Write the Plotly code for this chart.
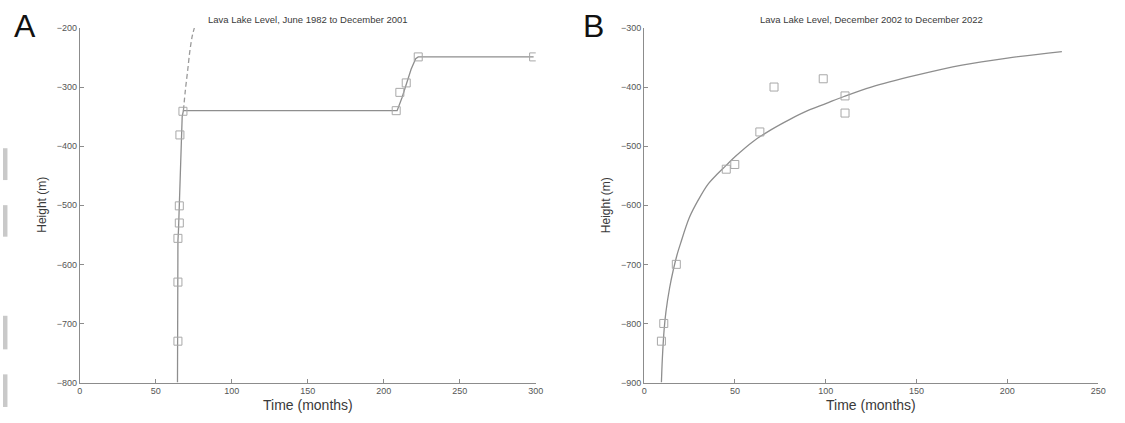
import plotly.graph_objects as go

# ---- Panel A data (months, metres) ----
a_obs_x = [64.6, 64.6, 64.6, 65.5, 65.5, 65.9, 67.9, 208.2, 210.6, 214.8, 222.7, 298.6]
a_obs_y = [-730, -630, -556, -530, -501, -381, -341, -340, -309, -293, -249, -249]

a_fit_x = [64.3, 64.3, 64.6, 65.0, 65.5, 66.0, 66.6, 67.4, 68.2, 208.8, 212.0, 215.0, 218.0, 221.0, 222.7, 298.6]
a_fit_y = [-800, -600, -560, -540, -500, -450, -380, -350, -340, -340, -318, -292, -270, -252, -249, -249]

a_ext_x = [68.2, 69.5, 71.0, 72.5, 74.0, 75.4]
a_ext_y = [-340, -305, -272, -238, -214, -200]

# ---- Panel B data ----
b_obs_x = [9.5, 10.8, 17.7, 45.2, 49.9, 63.7, 71.5, 98.6, 110.6, 110.6]
b_obs_y = [-830, -800, -700, -539, -531, -476, -400, -386, -415, -444]

b_fit_x = [9.5, 10, 11, 12, 14, 16, 18, 20, 25, 30, 35, 40, 45, 50, 60, 70, 80, 90, 100, 110, 125, 150, 175, 200, 230]
b_fit_y = [-900, -860, -810, -780, -740, -710, -685, -665, -620, -590, -565, -548, -533, -518, -492, -472, -455, -440, -428, -416, -400, -380, -363, -351, -340]

titles = ["Lava Lake Level, June 1982 to December 2001", "Lava Lake Level, December 2002 to December 2022"]
panel_letters = ["A", "B"]

W, H = 1125, 423
LINE = "#8e8e8e"
MARK = "#a8a8a8"
AXIS = "#8c8c8c"
TXT = "#3a3a3a"
FONT = "Liberation Sans, Arial, sans-serif"

def px(x):
    return x / W

def py(y):
    return 1 - y / H

fig = go.Figure()

fig.add_trace(go.Scatter(x=a_fit_x, y=a_fit_y, mode="lines", line=dict(color=LINE, width=1.3),
                         xaxis="x", yaxis="y", showlegend=False))
fig.add_trace(go.Scatter(x=a_ext_x, y=a_ext_y, mode="lines",
                         line=dict(color="#9a9a9a", width=1.3, dash="5px,3px", shape="spline"),
                         xaxis="x", yaxis="y", showlegend=False))
fig.add_trace(go.Scatter(x=a_obs_x, y=a_obs_y, mode="markers",
                         marker=dict(symbol="square-open", size=8, color=MARK, line=dict(width=1)),
                         xaxis="x", yaxis="y", showlegend=False))

fig.add_trace(go.Scatter(x=b_fit_x, y=b_fit_y, mode="lines", line=dict(color=LINE, width=1.3, shape="spline"),
                         xaxis="x2", yaxis="y2", showlegend=False))
fig.add_trace(go.Scatter(x=b_obs_x, y=b_obs_y, mode="markers",
                         marker=dict(symbol="square-open", size=8, color=MARK, line=dict(width=1)),
                         xaxis="x2", yaxis="y2", showlegend=False))

ax_common = dict(showline=True, linecolor=AXIS, linewidth=1, ticks="inside", ticklen=4,
                 tickcolor=AXIS, showgrid=False, zeroline=False, mirror=False,
                 tickfont=dict(family=FONT, size=9, color="#555555"))

ybot, ytop = py(386.7), py(23.5)
fig.update_layout(
    width=W, height=H,
    margin=dict(l=0, r=0, t=0, b=0),
    paper_bgcolor="white", plot_bgcolor="white",
    xaxis=dict(domain=[px(77.5), px(538)], range=[0, 300], dtick=50, anchor="y", **ax_common),
    yaxis=dict(domain=[ybot, ytop], range=[-800, -200], dtick=100, anchor="x", **ax_common),
    xaxis2=dict(domain=[px(647.5), px(1106)], range=[0, 250], dtick=50, anchor="y2", **ax_common),
    yaxis2=dict(domain=[ybot, ytop], range=[-900, -300], dtick=100, anchor="x2", **ax_common),
)

ann = []
centers = [(77.5 + 538) / 2, (647.5 + 1106) / 2]
ylab_x = [40, 609]
for i in range(2):
    ann.append(dict(text=titles[i], x=px(centers[i]), y=py(15), xref="paper", yref="paper",
                    showarrow=False, font=dict(family=FONT, size=9.5, color=TXT),
                    xanchor="center", yanchor="middle"))
    ann.append(dict(text="Time (months)", x=px(centers[i]), y=py(410), xref="paper", yref="paper",
                    showarrow=False, font=dict(family=FONT, size=14, color=TXT),
                    xanchor="center", yanchor="middle"))
    ann.append(dict(text="Height (m)", x=px(ylab_x[i]), y=py(205), xref="paper", yref="paper",
                    showarrow=False, textangle=-90, font=dict(family=FONT, size=12, color=TXT),
                    xanchor="center", yanchor="middle"))
ann.append(dict(text=panel_letters[0], x=px(22), y=py(22), xref="paper", yref="paper", showarrow=False,
                font=dict(family=FONT, size=32, color="#111111"), xanchor="center", yanchor="middle"))
ann.append(dict(text=panel_letters[1], x=px(596), y=py(22), xref="paper", yref="paper", showarrow=False,
                font=dict(family=FONT, size=32, color="#111111"), xanchor="center", yanchor="middle"))
fig.update_layout(annotations=ann)

# grey strips along the left edge of the scanned figure
strips = [(146.7, 179.3), (205, 237.3), (318.3, 352.7), (378.3, 411.7)]
shapes = []
for (t, b) in strips:
    shapes.append(dict(type="rect", xref="paper", yref="paper", x0=0, x1=px(4.5), y0=py(b), y1=py(t),
                       fillcolor="#c9c9c9", line=dict(width=0), layer="below"))
fig.update_layout(shapes=shapes)

fig.write_html("out.html")
